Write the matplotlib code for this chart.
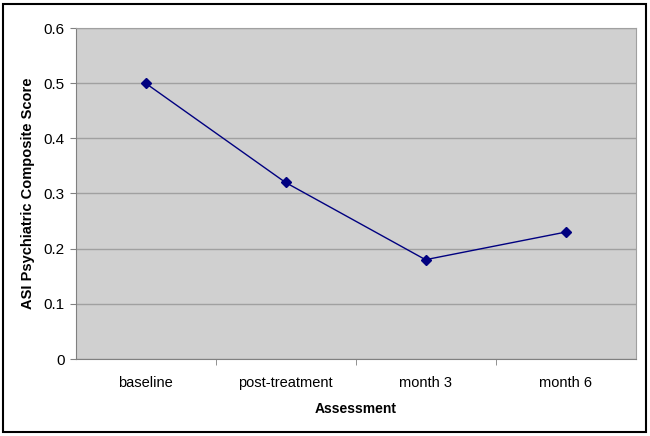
import matplotlib.pyplot as plt
from matplotlib.patches import Rectangle

plt.rcParams['font.family'] = ['Liberation Sans', 'DejaVu Sans']

# Data
assessments = ["baseline", "post-treatment", "month 3", "month 6"]
scores = [0.50, 0.32, 0.18, 0.23]
y_ticks = [0, 0.1, 0.2, 0.3, 0.4, 0.5, 0.6]

fig = plt.figure(figsize=(6.5, 4.36), dpi=100)
ax = fig.add_axes([75.5 / 650, 1 - 359 / 436, 560 / 650, 331 / 436])

ax.set_facecolor("#d0d0d0")
x = list(range(len(assessments)))
ax.plot(x, scores, color="#000080", linewidth=1, marker="D", markersize=5,
        markerfacecolor="#000080", markeredgecolor="#000080", zorder=3)

ax.set_xlim(-0.5, len(assessments) - 0.5)
ax.set_ylim(0, 0.6)
ax.set_yticks(y_ticks)
ax.set_yticklabels(["0" if v == 0 else f"{v:.1f}" for v in y_ticks])
ax.set_xticks(x)
ax.set_xticklabels(assessments)
ax.tick_params(axis="x", which="major", length=0, pad=12, labelsize=10.5)
ax.set_xticks([i + 0.5 for i in range(len(assessments) - 1)], minor=True)
ax.tick_params(axis="x", which="minor", length=4, color="#808080", direction="out")
ax.tick_params(axis="y", length=4, color="#808080", labelsize=11, pad=4)

ax.grid(True, axis="y", color="#a0a0a0", linewidth=1)
ax.set_axisbelow(True)
for side in ["top", "right"]:
    ax.spines[side].set_color("#a0a0a0")
for side in ["left", "bottom"]:
    ax.spines[side].set_color("#808080")

ax.set_xlabel("Assessment", fontsize=10, fontweight="bold", labelpad=9)
ax.set_ylabel("ASI Psychiatric Composite Score", fontsize=10.5, fontweight="bold")
ax.yaxis.set_label_coords(-0.072, 0.5)

# Outer frame around the chart
fig.patches.append(Rectangle((3 / 650, 4 / 436), 643 / 650, 428 / 436, transform=fig.transFigure,
                             fill=False, edgecolor="black", linewidth=1.5))

fig.savefig("out.png", dpi=100)
